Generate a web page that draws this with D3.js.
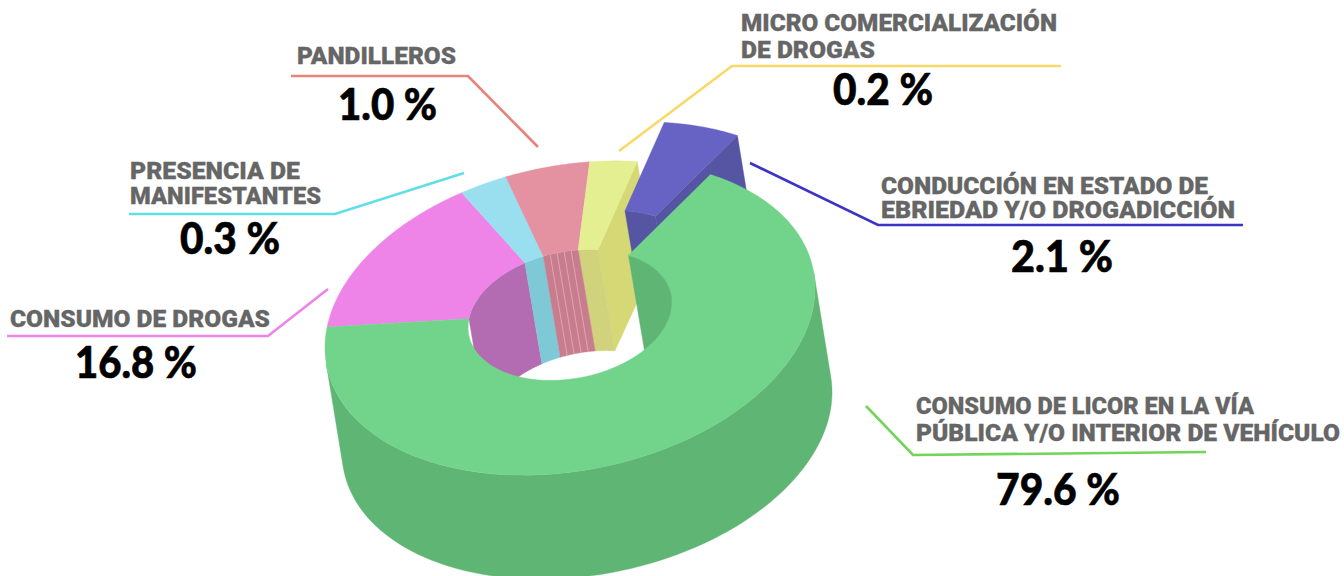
<!DOCTYPE html>
<html><head><meta charset="utf-8">
<script src="https://cdn.jsdelivr.net/npm/d3@7/dist/d3.min.js"></script>
<style>html,body{margin:0;padding:0;background:#fff;overflow:hidden}svg{display:block}</style>
</head><body><svg id="c" width="1344" height="576"></svg>
<script>
// ---- data ----
const categories = ["Consumo de licor","Consumo de drogas","Presencia de manifestantes","Pandilleros","Micro comercialización","Conducción en estado de ebriedad"];
const labelValues = [79.6,16.8,0.3,1.0,0.2,2.1];          // printed percentages
const drawnShares = [67.4,15.6,3.07,5.5,3.14,5.29];        // slice sizes as drawn in the picture
const labelLines = [
 ["CONSUMO DE LICOR EN LA VÍA","PÚBLICA Y/O INTERIOR DE VEHÍCULO"],
 ["CONSUMO DE DROGAS"],
 ["PRESENCIA DE","MANIFESTANTES"],
 ["PANDILLEROS"],
 ["MICRO COMERCIALIZACIÓN","DE DROGAS"],
 ["CONDUCCIÓN EN ESTADO DE","EBRIEDAD Y/O DROGADICCIÓN"]
];
// ---- styles & layout ----
const topColors  = ["#72d48b","#ee84e8","#9adff0","#e491a1","#e3ef91","#6763c5"];
const wallColors = ["#5fb574","#b36bb2","#7fc9d7","#c87d8e","#d0d37c","#5555a3"];
const faceColors = ["#5fb574","#b36bb2","#7fc9d7","#c87d8e","#d6d875","#5555a3"];
const leaderColors=["#72d45a","#ee84e8","#5fdfe6","#e8837b","#f7d968","#3b34c4"];
const leaders = [
 [[866,406],[913,455],[1206,452]],
 [[7,336],[268,336],[328,289]],
 [[129,214],[335,214],[464,173]],
 [[291,76],[468,76],[538,147]],
 [[619,151],[732,66],[1061,66]],
 [[750,163],[878,225],[1243,225]]
];
const textPos = [ // x, first baseline, line step, widths per line, value x-centre, value baseline, value width
 {x:916,y:414,step:27,w:[338,424],vx:1058,vy:505,vw:124},
 {x:10,y:327,step:0,w:[260],vx:136,vy:378,vw:122},
 {x:130,y:179,step:24.5,w:[170,191],vx:230,vy:253.5,vw:100},
 {x:297,y:64,step:0,w:[159],vx:387.5,vy:120,vw:99},
 {x:741,y:31,step:27,w:[316,134],vx:883,vy:104.5,vw:100},
 {x:881,y:194,step:24,w:[327,354],vx:1062,vy:272,vw:102}
];

const deg=Math.PI/180, tilt=11.2*deg, A=248, B=152.5, ratio=0.416;
const cx=570, cy=318, ex=17, eyOuter=104, eyInner=101, explode=[27,-39];
const holeDx=0, holeDy=-3;

const project=(t,inner,z,off)=>{
  const r=inner?ratio:1, u=r*Math.sin(t), v=-r*Math.cos(t);
  const x=A*u*Math.cos(tilt)+B*v*Math.sin(tilt), y=-A*u*Math.sin(tilt)+B*v*Math.cos(tilt);
  return [cx+x+(inner?holeDx:0)+(z?ex:0)+off[0], cy+y+(inner?holeDy:0)+(z?(inner?eyInner:eyOuter):0)+off[1]];
};
const pie=d3.pie().sort(null).startAngle(41.9*deg).endAngle((41.9+360)*deg)(drawnShares);
const line=d3.line().curve(d3.curveLinear);
const svg=d3.select("#c"), g=svg.append("g");
const samples=(a,b,n=80)=>d3.range(0,n+1).map(i=>a+(b-a)*i/n);
const poly=(pts,fill)=>g.append("path").attr("d",line(pts)+"Z").attr("fill",fill).attr("stroke",fill).attr("stroke-width",.4);
// swept side surface between two angles
const wall=(a,b,inner,off,fill)=>{
  const s=samples(a,b);
  return poly([...s.map(t=>project(t,inner,0,off)),...s.slice().reverse().map(t=>project(t,inner,1,off))],fill);
};
// angles where the side silhouette leaves the rim, within a slice
const tangent=(a,b,inner,pick)=>{
  const ey=inner?eyInner:eyOuter;
  return pick(samples(a,b,720),t=>{const p=project(t,inner,0,[0,0]);return p[0]*ey-p[1]*ex;});
};
const topFace=(a,b,off,fill)=>{
  const s=samples(a,b);
  return poly([...s.map(t=>project(t,0,0,off)),...s.slice().reverse().map(t=>project(t,1,0,off))],fill);
};
const cutFace=(t,off,fill)=>poly([project(t,1,0,off),project(t,0,0,off),project(t,0,1,off),project(t,1,1,off)],fill);
const zero=[0,0];

// back to front
const [gr,pk,bl,rs,yl,pu]=pie;
cutFace(yl.endAngle,zero,faceColors[4]);
wall(yl.startAngle,yl.endAngle,true,zero,wallColors[4]);
cutFace(pu.endAngle,explode,faceColors[5]);
wall(pu.startAngle,pu.endAngle,true,explode,wallColors[5]);
topFace(pu.startAngle,pu.endAngle,explode,topColors[5]);
[pk,bl,rs].forEach((d,i)=>{wall(d.startAngle,d.endAngle,true,zero,wallColors[i+1]);});
// facet lines on the rose wall
d3.range(1,5).forEach(k=>{
  const t=rs.startAngle+(rs.endAngle-rs.startAngle)*k/5;
  g.append("path").attr("d",line([project(t,1,0,zero),project(t,1,1,zero)])).attr("stroke","#e6aeb9").attr("stroke-width",.8).attr("fill","none");
});
wall(gr.startAngle,tangent(gr.startAngle,gr.endAngle,true,d3.greatest),true,zero,wallColors[0]);
wall(tangent(gr.startAngle,gr.endAngle,false,d3.greatest),tangent(gr.startAngle,gr.endAngle,false,d3.least),false,zero,wallColors[0]);
[pk,bl,rs,yl].forEach((d,i)=>topFace(d.startAngle,d.endAngle,zero,topColors[i+1]));
topFace(gr.startAngle,gr.endAngle,zero,topColors[0]);

// leaders
leaders.forEach((l,i)=>{
  svg.append("path").attr("d",line(l)).attr("fill","none").attr("stroke",leaderColors[i]).attr("stroke-width",2.6);
});
// labels
labelLines.forEach((ls,i)=>{
  const p=textPos[i];
  ls.forEach((s,j)=>{
    svg.append("text").attr("x",p.x).attr("y",p.y+j*p.step).text(s)
      .attr("font-family","Roboto").attr("font-weight",900).attr("font-size",24.5).attr("fill","#666")
      .attr("stroke","#666").attr("stroke-width",.3)
      .attr("textLength",p.w[j]).attr("lengthAdjust","spacingAndGlyphs");
  });
  svg.append("text").attr("x",p.vx).attr("y",p.vy).attr("text-anchor","middle")
    .text(labelValues[i].toFixed(1)+" %")
    .attr("font-family","Lato").attr("font-weight",900).attr("font-size",44).attr("fill","#000")
    .attr("stroke","#000").attr("stroke-width",.6)
    .attr("textLength",p.vw).attr("lengthAdjust","spacingAndGlyphs");
});
</script></body></html>
